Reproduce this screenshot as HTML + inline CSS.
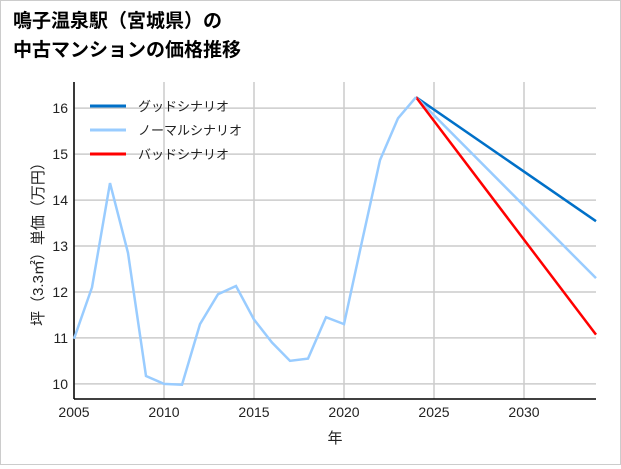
<!DOCTYPE html>
<html><head><meta charset="utf-8"><style>
body{margin:0;background:#fff;font-family:"Liberation Sans","Noto Sans CJK JP",sans-serif;}
#wrap{position:relative;width:619px;height:463px;border:1px solid #ccc;}
</style></head><body>
<div id="wrap">
<svg id="c" width="619" height="463"></svg>
</div>
<script>
const years=[2005,2006,2007,2008,2009,2010,2011,2012,2013,2014,2015,2016,2017,2018,2019,2020,2021,2022,2023,2024];
const hist=[10.98,12.1,14.37,12.85,10.17,10.0,9.98,11.3,11.95,12.13,11.4,10.9,10.5,10.55,11.45,11.3,13.1,14.87,15.78,16.24];
const scenYears=[2024,2034];
const good=[16.24,13.54];
const normal=[16.24,12.3];
const bad=[16.24,11.07];
const xTicks=[2005,2010,2015,2020,2025,2030];
const yTicks=[10,11,12,13,14,15,16];
const legendLabels=["グッドシナリオ","ノーマルシナリオ","バッドシナリオ"];
const legendColors=["#0070c8","#99ccff","#ff0000"];

const L=73,R=595,T=81,B=398;
const x=v=>L+(v-2005)/(2034-2005)*(R-L);
const y=v=>T+(16.57-v)/(16.57-9.67)*(B-T);
const s=document.getElementById('c');const NS='http://www.w3.org/2000/svg';
function mk(t,a,txt){const e=document.createElementNS(NS,t);for(const k in a)e.setAttribute(k,a[k]);if(txt!=null)e.textContent=txt;s.appendChild(e);return e;}
let e;
e=mk('text',{x:12,y:26,'font-size':19,'font-weight':'bold',fill:'#000'},'鳴子温泉駅（宮城県）の');


e=mk('text',{x:12,y:55,'font-size':19,'font-weight':'bold',fill:'#000'},'中古マンションの価格推移');


xTicks.forEach(t=>{
 e=mk('line',{x1:x(t),x2:x(t),y1:T,y2:B,stroke:'#ccc','stroke-width':1.5});
 
 
 e=mk('text',{x:x(t),y:B+18,'font-size':14,'text-anchor':'middle',fill:'#222'},t);
 
 
});
yTicks.forEach(t=>{
 e=mk('line',{x1:L,x2:R,y1:y(t),y2:y(t),stroke:'#ccc','stroke-width':1.5});
 
 
 e=mk('text',{x:L-6,y:y(t)+5,'font-size':14,'text-anchor':'end',fill:'#222'},t);
 
 
});
e=mk('line',{x1:L,x2:L,y1:T,y2:B,stroke:'#000','stroke-width':1.5});


e=mk('line',{x1:L,x2:R,y1:B,y2:B,stroke:'#000','stroke-width':1.5});


e=mk('text',{x:(L+R)/2,y:442,'font-size':15,'text-anchor':'middle',fill:'#222'},'年');


e=mk('text',{x:0,y:0,'font-size':15,'text-anchor':'middle',fill:'#222',transform:`translate(42,${(T+B)/2}) rotate(-90)`},'坪（3.3㎡）単価（万円）');


function line(xs,ys,c,name){
 e=mk('polyline',{points:xs.map((v,i)=>x(v)+','+y(ys[i])).join(' '),fill:'none',stroke:c,'stroke-width':2.5});
 
 
}
line(scenYears,good,legendColors[0],'good-scenario-line');
line(scenYears,normal,legendColors[1],'normal-scenario-line');
line(scenYears,bad,legendColors[2],'bad-scenario-line');
line(years,hist,legendColors[1],'historical-price-line');
legendLabels.forEach((lb,i)=>{
 const ly=105+i*24;
 e=mk('line',{x1:89,x2:125,y1:ly,y2:ly,stroke:legendColors[i],'stroke-width':3});
 
 
 e=mk('text',{x:137,y:ly+5,'font-size':13,fill:'#222'},lb);
 
 
});
</script>
</body></html>
